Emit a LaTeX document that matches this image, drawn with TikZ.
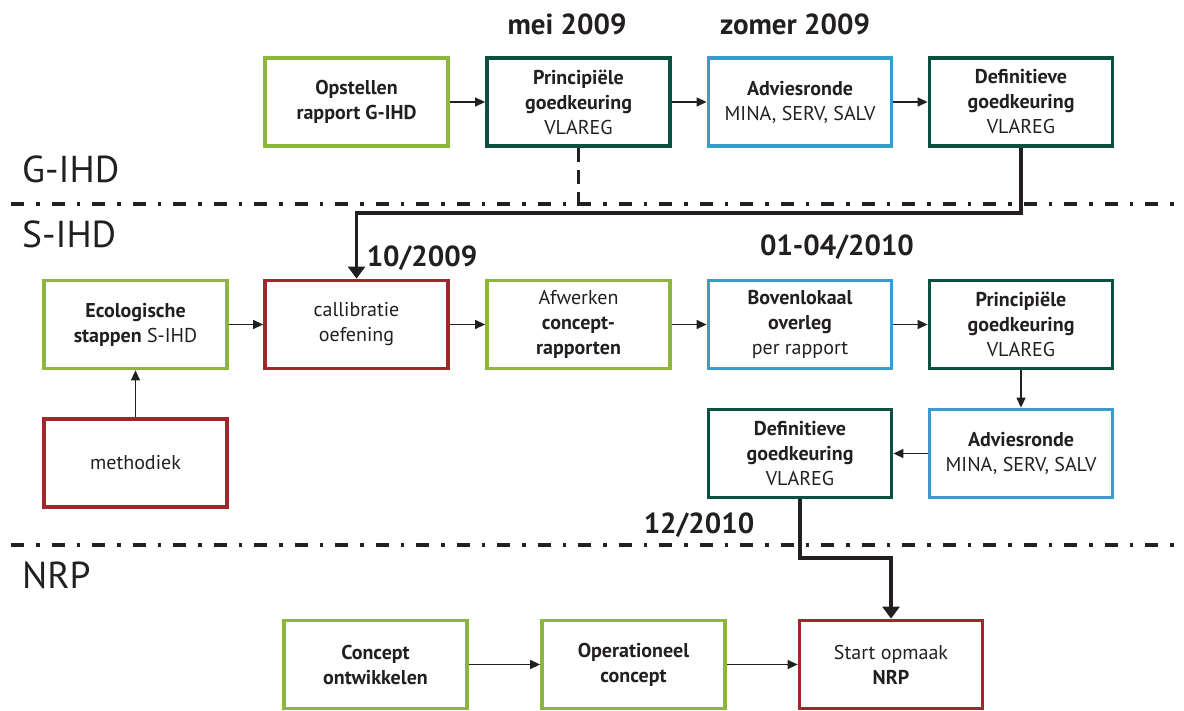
\documentclass[tikz,border=0pt]{standalone}
\usepackage{fontspec}
\setmainfont{PT Sans}
\usetikzlibrary{arrows.meta}
\definecolor{lgreen}{HTML}{8DB63C}
\definecolor{dgreen}{HTML}{0C5040}
\definecolor{lblue}{HTML}{3A9BCC}
\definecolor{dred}{HTML}{A3262A}
\definecolor{txt}{HTML}{231F20}
\begin{document}
\begin{tikzpicture}[x=1pt,y=-1pt,
  box/.style={draw, line width=3.8pt, minimum width=183pt, minimum height=88pt,
    inner sep=0pt, align=center, text=txt,
    font=\fontsize{20}{25}\selectfont},
  gbox/.style={box, draw=lgreen},
  dbox/.style={box, draw=dgreen},
  bbox/.style={box, draw=lblue},
  rbox/.style={box, draw=dred},
  arr/.style={draw=txt, line width=1.3pt, -{Triangle[length=10pt,width=9pt]}},
  conn/.style={draw=txt, line width=3.8pt, -{Triangle[length=12pt,width=17pt]}},
  sep/.style={draw=txt, line width=4pt, dash pattern=on 13pt off 12pt on 3.5pt off 12pt},
  sect/.style={anchor=base west, inner sep=0pt, text=txt, font=\fontsize{37.5}{40}\selectfont},
  date/.style={anchor=base, inner sep=0pt, text=txt, font=\fontsize{29}{30}\selectfont\bfseries}
]
\useasboundingbox (0,0) rectangle (1184,711);

% section separators
\coordinate (s1a) at (11,204);
\coordinate (s1b) at (1184,204);
\coordinate (s2a) at (11,545);
\coordinate (s2b) at (1184,545);
\draw[sep] (s1a) -- (s1b);
\draw[sep] (s2a) -- (s2b);

% section labels
\node[sect] (lg) at (22,183) {G-IHD};
\node[sect] (ls) at (22,248) {S-IHD};
\node[sect] (ln) at (22,588) {NRP};

% dates
\node[date] (d1) at (567,35) {mei 2009};
\node[date] (d2) at (795,35) {zomer 2009};
\node[date] (d3) at (422,267) {10/2009};
\node[date] (d4) at (837,256) {01-04/2010};
\node[date] (d5) at (699,533) {12/2010};

% row 1
\node[gbox] (ops) at (356.5,102) {\textbf{Opstellen}\\\textbf{rapport G-IHD}};
\node[dbox] (pr1) at (578.5,102) {\textbf{Principiële}\\\textbf{goedkeuring}\\VLAREG};
\node[bbox] (adv1) at (800,102) {\textbf{Adviesronde}\\MINA, SERV, SALV};
\node[dbox] (def1) at (1021,102) {\textbf{Definitieve}\\\textbf{goedkeuring}\\VLAREG};

% row 2
\node[gbox] (eco) at (135.5,324.5) {\textbf{Ecologische}\\\textbf{stappen} S-IHD};
\node[rbox] (cal) at (356.5,324.5) {callibratie\\oefening};
\node[gbox] (afw) at (578.5,324.5) {Afwerken\\\textbf{concept-}\\\textbf{rapporten}};
\node[bbox] (bov) at (800,324.5) {\textbf{Bovenlokaal}\\\textbf{overleg}\\per rapport};
\node[dbox] (pr2) at (1021,324.5) {\textbf{Principiële}\\\textbf{goedkeuring}\\VLAREG};

% row 3
\node[rbox] (met) at (135.5,463) {methodiek};
\node[dbox] (def2) at (800,453.5) {\textbf{Definitieve}\\\textbf{goedkeuring}\\VLAREG};
\node[bbox] (adv2) at (1021,453.5) {\textbf{Adviesronde}\\MINA, SERV, SALV};

% row 4
\node[gbox] (con) at (375.5,664.5) {\textbf{Concept}\\\textbf{ontwikkelen}};
\node[gbox] (ope) at (633.5,664.5) {\textbf{Operationeel}\\\textbf{concept}};
\node[rbox] (sta) at (891,664.5) {Start opmaak\\\textbf{NRP}};

% thin arrows
\draw[arr] (ops) -- (pr1);
\draw[arr] (pr1) -- (adv1);
\draw[arr] (adv1) -- (def1);
\draw[arr] (eco) -- (cal);
\draw[arr] (cal) -- (afw);
\draw[arr] (afw) -- (bov);
\draw[arr] (bov) -- (pr2);
\draw[arr] (met) -- (eco);
\draw[arr] (pr2) -- (adv2);
\draw[arr] (adv2) -- (def2);
\draw[arr] (con) -- (ope);
\draw[arr] (ope) -- (sta);

% thick connectors
\coordinate (hy) at (0,213);
\coordinate (hy2) at (0,558);
\draw[draw=txt, line width=3.8pt, dash pattern=on 14pt off 8pt] (pr1.south) -- (pr1.south |- hy);
\draw[conn] (def1.south) -- (def1.south |- hy) -| (cal.north);
\draw[conn] (def2.south) -- (def2.south |- hy2) -| (sta.north);
\end{tikzpicture}
\end{document}
